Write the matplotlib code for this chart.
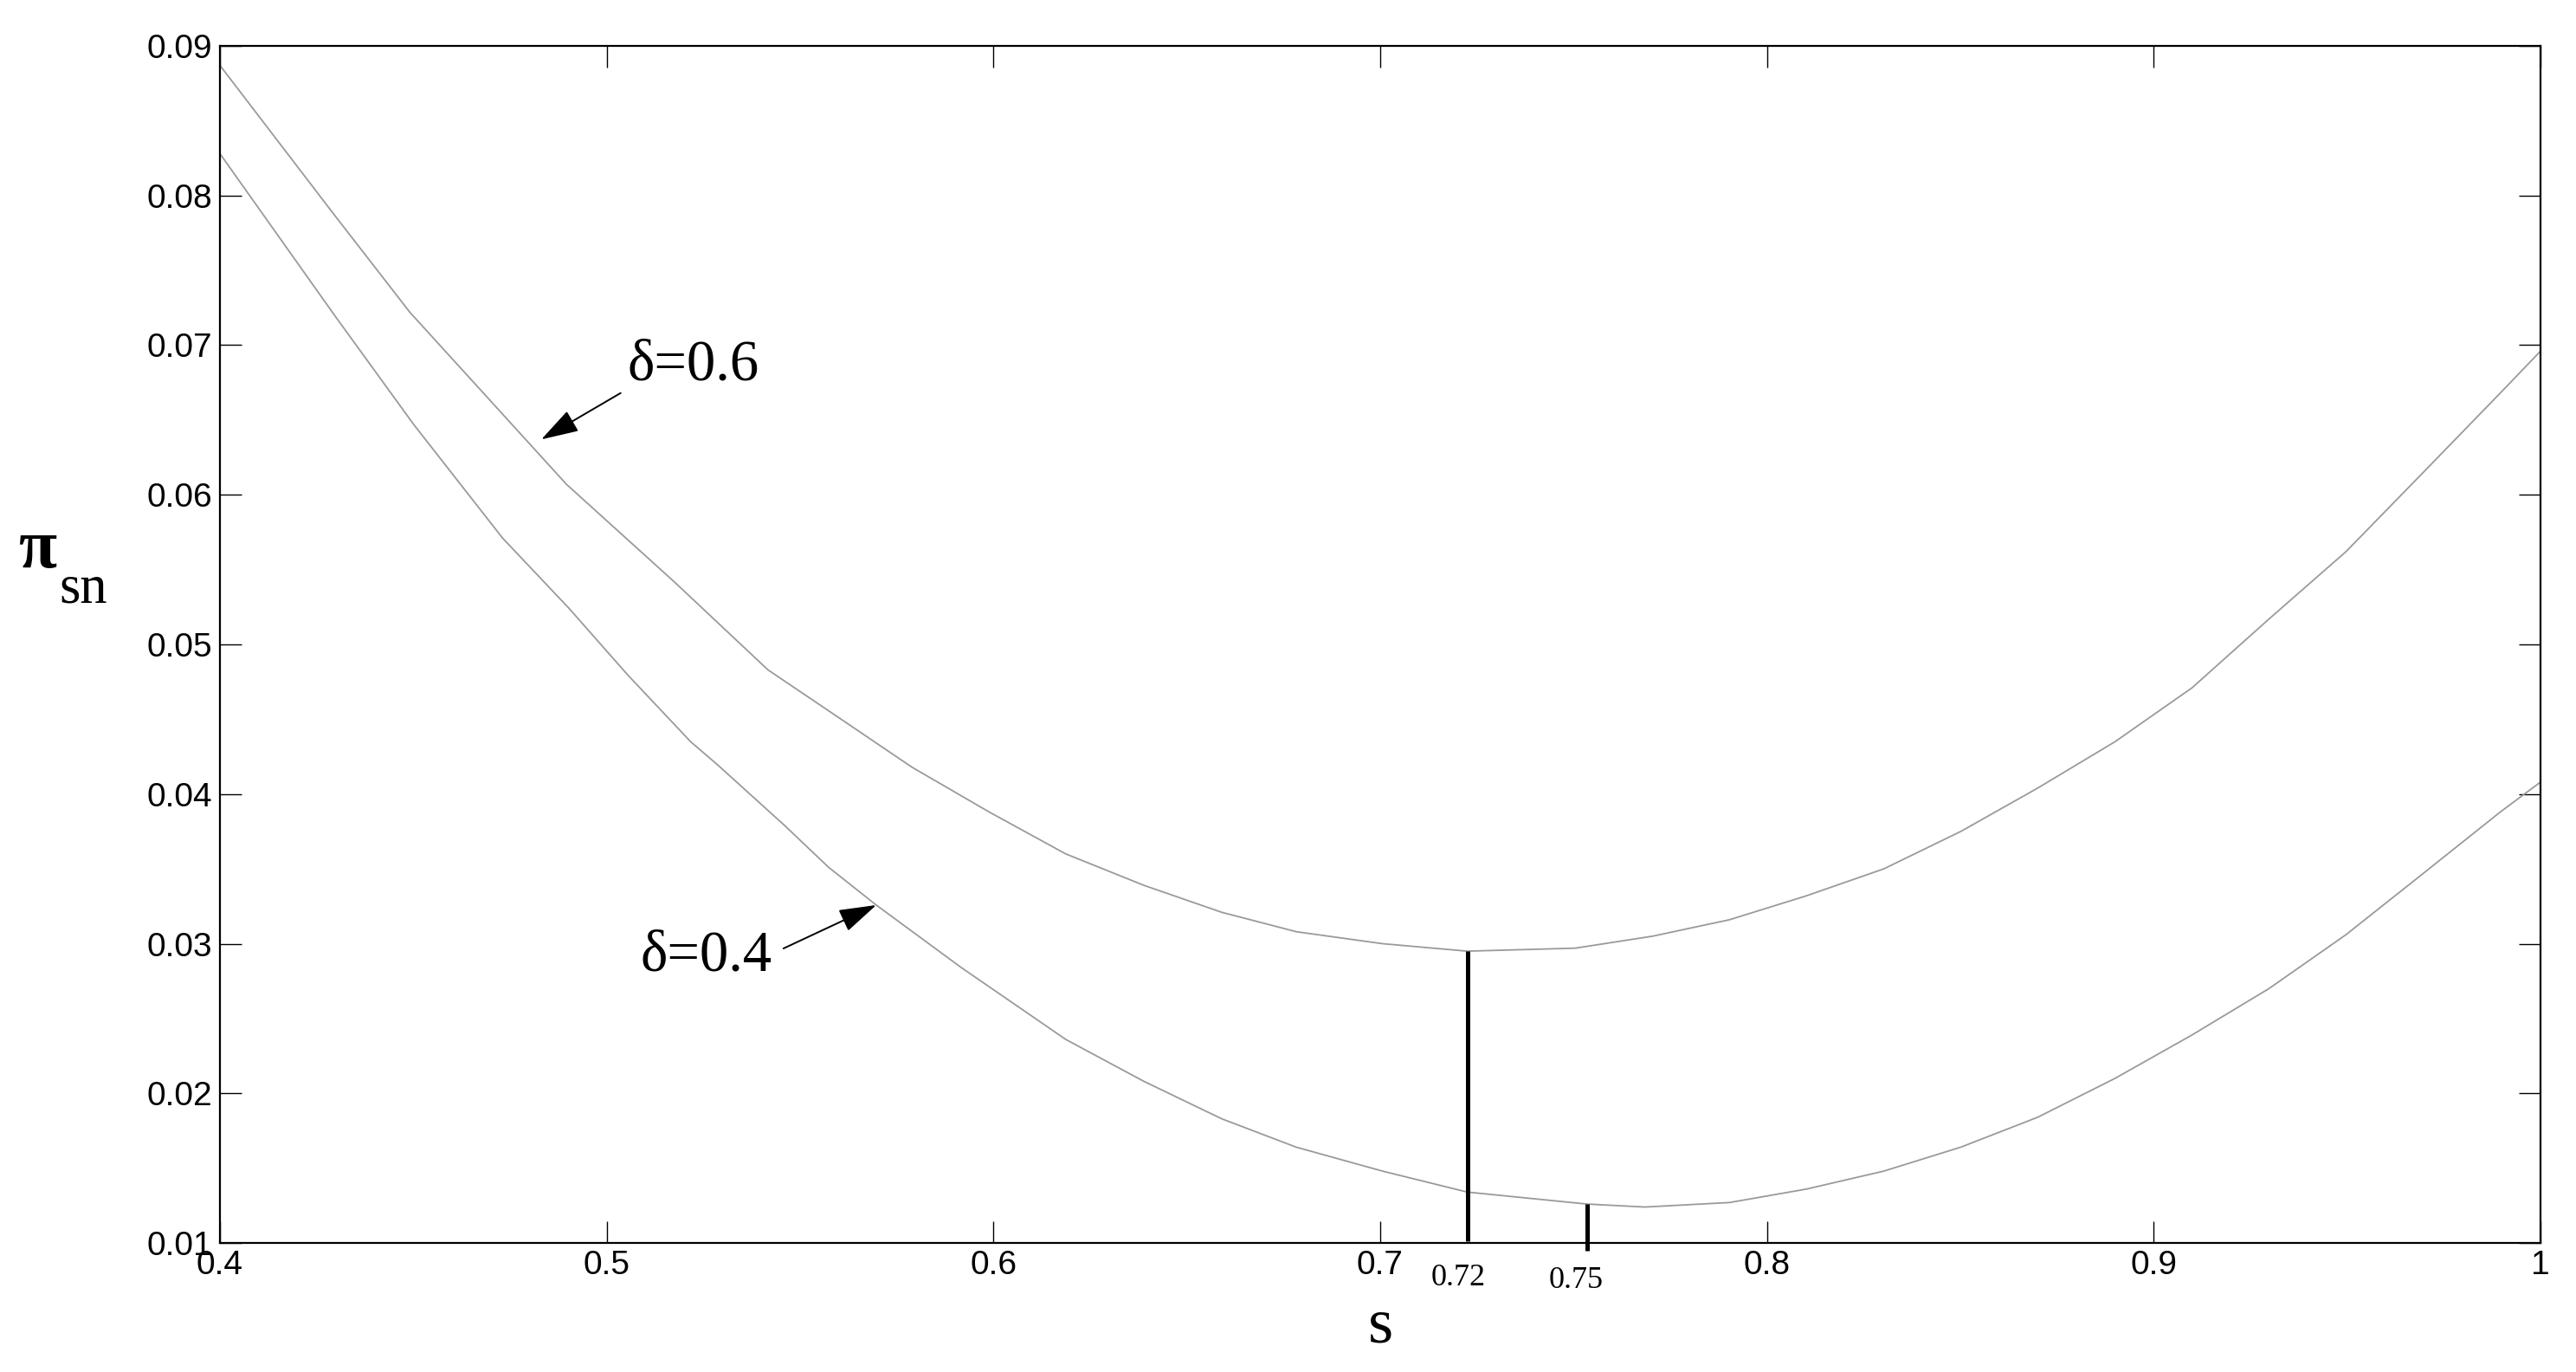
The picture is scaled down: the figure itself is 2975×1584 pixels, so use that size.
import matplotlib
matplotlib.use("Agg")
import matplotlib.pyplot as plt

# ---- data ----
s_upper = [0.400, 0.4293, 0.4491, 0.4896, 0.5174, 0.5417, 0.5589, 0.5789, 0.5989,
           0.6187, 0.6389, 0.659, 0.6783, 0.7006, 0.7225, 0.7504, 0.7704, 0.7903,
           0.8102, 0.8302, 0.8501, 0.870, 0.890, 0.9099, 0.9298, 0.9497, 0.9697,
           0.9896, 1.000]
pi_upper = [0.0887, 0.0788, 0.0722, 0.0607, 0.0542, 0.0483, 0.0453, 0.0418, 0.0388,
            0.0360, 0.0339, 0.0321, 0.0308, 0.0300, 0.0295, 0.0297, 0.0305, 0.0316,
            0.0332, 0.0350, 0.0375, 0.0404, 0.0435, 0.0471, 0.0517, 0.0562, 0.0615,
            0.0668, 0.0696]

s_lower = [0.400, 0.4299, 0.4501, 0.4731, 0.4903, 0.5053, 0.5217, 0.5289, 0.546,
           0.5574, 0.5696, 0.5917, 0.6187, 0.6389, 0.659, 0.6783, 0.7006, 0.7225,
           0.7534, 0.7684, 0.7903, 0.8102, 0.8302, 0.8501, 0.870, 0.890, 0.9099,
           0.9298, 0.9497, 0.9697, 0.9896, 1.000]
pi_lower = [0.0828, 0.0719, 0.0647, 0.0571, 0.0524, 0.0480, 0.0435, 0.0419, 0.0379,
            0.0351, 0.0326, 0.0284, 0.0236, 0.0208, 0.0183, 0.0164, 0.0148, 0.0134,
            0.0126, 0.0124, 0.0127, 0.0136, 0.0148, 0.0164, 0.0184, 0.0210, 0.0239,
            0.0270, 0.0306, 0.0347, 0.0388, 0.0408]

# marker bars (s position, bottom, top)
bar_s = [0.7225, 0.7534]
bar_bottom = [0.0101, 0.0095]
bar_top = [0.0295, 0.0126]
bar_labels = ["0.72", "0.75"]
bar_label_s = [0.7203, 0.7506]
bar_label_y = [0.00763, 0.00746]

x_ticks = [0.4, 0.5, 0.6, 0.7, 0.8, 0.9, 1.0]
x_tick_labels = ["0.4", "0.5", "0.6", "0.7", "0.8", "0.9", "1"]
y_ticks = [0.01, 0.02, 0.03, 0.04, 0.05, 0.06, 0.07, 0.08, 0.09]
y_tick_labels = ["0.01", "0.02", "0.03", "0.04", "0.05", "0.06", "0.07", "0.08", "0.09"]

W, H = 2975, 1584
fig = plt.figure(figsize=(W / 100, H / 100), dpi=100)
ax = fig.add_axes([254 / W, (H - 1435) / H, (2934 - 254) / W, (1435 - 53) / H])

curve_color = "#9a9a9a"
ax.plot(s_upper, pi_upper, color=curve_color, lw=1.3)
ax.plot(s_lower, pi_lower, color=curve_color, lw=1.3)

for xs, b, t in zip(bar_s, bar_bottom, bar_top):
    ax.plot([xs, xs], [b, t], color="black", lw=3.6, solid_capstyle="butt", clip_on=False)

serif = "Liberation Serif"
sans = "Liberation Sans"

for lab, xs, ys in zip(bar_labels, bar_label_s, bar_label_y):
    ax.text(xs, ys, lab, ha="center", va="center", fontsize=26, family=serif, clip_on=False)

ax.set_xlim(0.4, 1.0)
ax.set_ylim(0.01, 0.09)
ax.set_xticks(x_ticks)
ax.set_xticklabels(x_tick_labels)
ax.set_yticks(y_ticks)
ax.set_yticklabels(y_tick_labels)
ax.tick_params(direction="in", length=18, width=1.0, top=True, right=True,
               labelsize=28)
ax.tick_params(axis="x", pad=6)
ax.tick_params(axis="y", pad=6.5)
for lbl in ax.get_xticklabels() + ax.get_yticklabels():
    lbl.set_family(sans)
for sp in ax.spines.values():
    sp.set_linewidth(1.6)

# annotations
arrow_kw = dict(arrowstyle="-|>,head_length=0.9,head_width=0.28", color="black",
                lw=1.4, shrinkA=0, shrinkB=0, mutation_scale=30)
ax.annotate("", xy=(0.4831, 0.0637), xytext=(0.5036, 0.0668), arrowprops=arrow_kw)
ax.text(0.5054, 0.06766, "δ=0.6", ha="left", va="baseline", fontsize=48, family=serif)
ax.annotate("", xy=(0.5697, 0.03258), xytext=(0.5457, 0.02968), arrowprops=arrow_kw)
ax.text(0.5088, 0.02823, "δ=0.4", ha="left", va="baseline", fontsize=48, family=serif)

# axis labels
fig.text(1594 / W, 1 - 1550 / H, "s", ha="center", va="baseline", fontsize=54, family=serif)
fig.text(22 / W, 1 - 655 / H, "π", ha="left", va="baseline", fontsize=58, family=serif,
         fontweight="bold")
fig.text(68 / W, 1 - 695 / H, "sn", ha="left", va="baseline", fontsize=45, family=serif)

fig.savefig("out.png", dpi=100)
